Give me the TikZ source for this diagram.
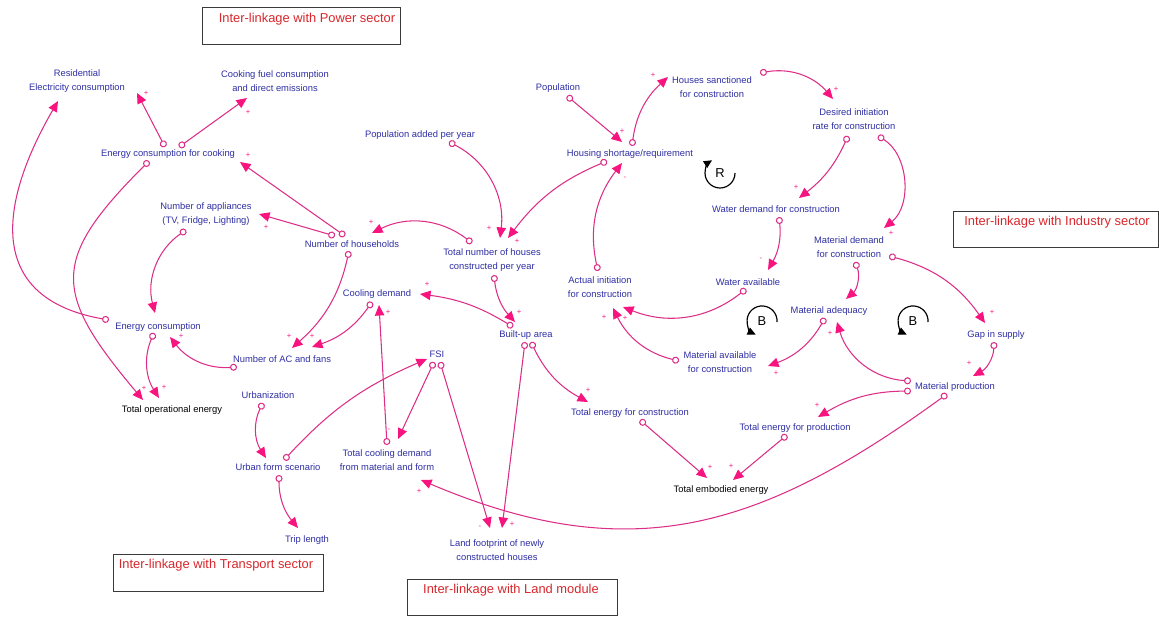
\documentclass[tikz,border=0pt]{standalone}
\usepackage{fontspec}
\setmainfont{Liberation Sans}
\usetikzlibrary{arrows.meta, calc}
\definecolor{varblue}{HTML}{2E2EA3}
\definecolor{linkpink}{HTML}{DC2E86}
\definecolor{headpink}{HTML}{F7147F}
\definecolor{titlered}{HTML}{D8262B}
\definecolor{boxgray}{HTML}{3A3A3A}
\tikzset{
  var/.style={text=varblue, align=center, inner sep=0pt,
    font=\fontsize{8}{11.5}\selectfont},
  outvar/.style={var, text=black},
  link/.style={draw=linkpink, line width=0.9pt,
    arrows={Circle[open, fill=white, length=6pt]-Triangle[length=9pt, width=8pt, color=headpink]}},
  sgn/.style={text=headpink, inner sep=0pt, font=\fontsize{6.5}{6.5}\selectfont},
  tbox/.style={draw=boxgray, line width=0.8pt, anchor=north west, inner sep=0pt},
  ttl/.style={text=titlered, inner sep=0pt, font=\fontsize{11}{11}\selectfont},
  loopmark/.style={inner sep=0pt, font=\fontsize{11}{11}\selectfont},
  looparc/.style={line width=1pt, -{Triangle[length=7pt, width=6.5pt]}}
}

\begin{document}
\begin{tikzpicture}[x=0.03cm, y=0.03cm]
  \useasboundingbox (0,0) rectangle (1159,-617);
  % Inter-linkage boxes
  \node[tbox, minimum width=5.94cm, minimum height=1.11cm] (pwrbox) at (202,-7) {};
  \node[ttl] (pwrttl) at (307,-19) {Inter-linkage with Power sector};
  \node[tbox, minimum width=6.15cm, minimum height=1.08cm] (indbox) at (953,-211) {};
  \node[ttl] (indttl) at (1057,-222) {Inter-linkage with Industry sector};
  \node[tbox, minimum width=6.30cm, minimum height=1.11cm] (trnbox) at (113,-554) {};
  \node[ttl] (trnttl) at (216,-565) {Inter-linkage with Transport sector};
  \node[tbox, minimum width=6.30cm, minimum height=1.08cm] (lndbox) at (407,-579) {};
  \node[ttl] (lndttl) at (511,-590) {Inter-linkage with Land module};

  % Variables
  \node[var] (resel) at (77,-81) {Residential\\Electricity consumption};
  \node[var] (cfuel) at (275,-81) {Cooking fuel consumption\\and direct emissions};
  \node[var] (ecook) at (168,-154) {Energy consumption for cooking};
  \node[var] (popadd) at (420,-135) {Population added per year};
  \node[var] (pop) at (558,-88) {Population};
  \node[var] (hsanc) at (712,-87) {Houses sanctioned\\for construction};
  \node[var] (desinit) at (854,-119) {Desired initiation\\rate for construction};
  \node[var] (hshort) at (630,-154) {Housing shortage/requirement};
  \node[var] (nappl) at (206,-214) {Number of appliances\\(TV, Fridge, Lighting)};
  \node[var] (nhh) at (352,-244) {Number of households};
  \node[var] (tothouse) at (492,-260) {Total number of houses\\constructed per year};
  \node[var] (wdem) at (776,-209) {Water demand for construction};
  \node[var] (mdem) at (849,-247) {Material demand\\for construction};
  \node[var] (actinit) at (600,-287) {Actual initiation\\for construction};
  \node[var] (wavail) at (748,-282) {Water available};
  \node[var] (cooldem) at (377,-294) {Cooling demand};
  \node[var] (econs) at (158,-327) {Energy consumption};
  \node[var] (builtup) at (526,-335) {Built-up area};
  \node[var] (madeq) at (829,-311) {Material adequacy};
  \node[var] (gap) at (996,-335) {Gap in supply};
  \node[var] (mavail) at (720,-362) {Material available\\for construction};
  \node[var] (nac) at (282,-359) {Number of AC and fans};
  \node[var] (fsi) at (437,-354) {FSI};
  \node[var] (mprod) at (955,-387) {Material production};
  \node[var] (urban) at (268,-395) {Urbanization};
  \node[outvar] (totop) at (172,-410) {Total operational energy};
  \node[var] (tecons) at (630,-413) {Total energy for construction};
  \node[var] (teprod) at (795,-428) {Total energy for production};
  \node[var] (uform) at (278,-467) {Urban form scenario};
  \node[var] (tcool) at (387,-460) {Total cooling demand\\from material and form};
  \node[outvar] (temb) at (721,-490) {Total embodied energy};
  \node[var] (trip) at (307,-540) {Trip length};
  \node[var] (land) at (497,-550) {Land footprint of newly\\constructed houses};

  % Power side
  \draw[link] ($(ecook)+(-3,7)$) -- ($(resel)+(60,-12)$);
  \draw[link] ($(ecook)+(11,7)$) -- ($(cfuel)+(-28,-17)$);
  \draw[link] ($(ecook)+(-19,-7)$) to[out=225, in=130, looseness=1.5] ($(totop)+(-29,10)$);
  \draw[link] ($(econs)+(-49,7)$) to[out=170, in=240, looseness=1.4] ($(resel)+(-19,-20)$);
  % Households
  \draw[link] ($(nhh)+(-7,8)$) -- ($(ecook)+(72,-8)$);
  \draw[link] ($(nhh)+(-17,8)$) -- ($(nappl)+(53,0)$);
  \draw[link] ($(nhh)+(-3,-7)$) to[bend left=18] ($(nac)+(10,11)$);
  \draw[link] ($(tothouse)+(-20,17)$) to[bend right=32] ($(nhh)+(20,11)$);
  \draw[link] ($(popadd)+(29,-7)$) to[bend left=35] ($(tothouse)+(8,22)$);
  \draw[link] ($(hshort)+(-23,-7)$) to[bend right=15] ($(tothouse)+(16,22)$);
  % Housing loop
  \draw[link] ($(pop)+(9,-8)$) -- ($(hshort)+(-8,12)$);
  \draw[link] ($(hshort)+(2,8)$) to[bend left=20] ($(hsanc)+(-44,10)$);
  \draw[link] ($(hsanc)+(48,14)$) to[bend left=30] ($(desinit)+(-21,20)$);
  \draw[link] ($(desinit)+(-6,-17)$) to[bend left=14] ($(wdem)+(23,11)$);
  \draw[link] ($(desinit)+(24,-17)$) to[bend left=55] ($(mdem)+(35,19)$);
  \draw[link] ($(wdem)+(3,-8)$) to[bend left=18] ($(wavail)+(20,12)$);
  \draw[link] ($(wavail)+(-2,-7)$) to[bend left=30] ($(actinit)+(23,-20)$);
  \draw[link] ($(mavail)+(-41,1)$) to[bend left=25] ($(actinit)+(13,-21)$);
  \draw[link] ($(actinit)+(-2,16)$) to[bend left=25] ($(hshort)+(-8,-9)$);
  % Material side
  \draw[link] ($(mdem)+(6,-15)$) to[bend left=35] ($(madeq)+(17,12)$);
  \draw[link] ($(mdem)+(40,-9)$) to[bend left=20] ($(gap)+(-11,12)$);
  \draw[link] ($(madeq)+(-4,-7)$) to[bend left=20] ($(mavail)+(48,-4)$);
  \draw[link] ($(mprod)+(-44,6)$) to[bend left=35] ($(madeq)+(8,-11)$);
  \draw[link] ($(gap)+(-2,-7)$) to[bend left=30] ($(mprod)+(18,11)$);
  \draw[link] ($(mprod)+(-44,-4)$) to[bend right=15] ($(teprod)+(23,11)$);
  \draw[link] ($(mprod)+(-8,-7)$) to[out=216, in=-23, looseness=1.1] ($(tcool)+(34,-20)$);
  \draw[link] ($(teprod)+(-8,-7)$) -- ($(temb)+(12,10)$);
  \draw[link] ($(tecons)+(10,-7)$) -- ($(temb)+(-14,12)$);
  % Built-up area
  \draw[link] ($(builtup)+(5,-7)$) to[bend right=18] ($(tecons)+(-42,11)$);
  \draw[link] ($(builtup)+(-13,8)$) to[bend right=12] ($(cooldem)+(43,0)$);
  \draw[link] ($(tothouse)+(2,-15)$) to[bend right=18] ($(builtup)+(-11,13)$);
  \draw[link] ($(builtup)+(-1,-7)$) -- ($(land)+(5,22)$);
  % Urban form
  \draw[link] ($(fsi)+(3,-8)$) -- ($(land)+(-7,22)$);
  \draw[link] ($(fsi)+(-3,-8)$) -- ($(tcool)+(11,21)$);
  \draw[link] ($(tcool)+(0,15)$) -- ($(cooldem)+(2,-11)$);
  \draw[link] ($(cooldem)+(-5,-8)$) to[bend left=18] ($(nac)+(30,12)$);
  \draw[link] ($(nac)+(-45,-8)$) to[bend left=28] ($(econs)+(12,-10)$);
  \draw[link] ($(nappl)+(-20,-16)$) to[bend right=35] ($(econs)+(-3,14)$);
  \draw[link] ($(econs)+(-4,-6)$) to[bend right=28] ($(totop)+(-13,12)$);
  \draw[link] ($(urban)+(-5,-8)$) to[bend right=30] ($(uform)+(-12,9)$);
  \draw[link] ($(uform)+(6,7)$) to[bend left=12] ($(fsi)+(-10,-5)$);
  \draw[link] ($(uform)+(1,-8)$) to[bend right=20] ($(trip)+(-9,12)$);

  % Polarities
  \foreach \sx/\sy/\sv [count=\k] in {146/93/+, 248/112/+, 144/388/+, 248/155/+,
      266/227/+, 289/336/+, 371/222/+, 489/228/+, 517/241/+, 622/131/+,
      653/75/+, 836/89/+, 796/187/+, 891/233/+, 761/259/-, 625/318/+,
      604/317/+, 625/178/-, 992/312/+, 776/373/+, 830/333/+, 969/363/+,
      817/405/+, 419/491/+, 731/466/+, 710/467/+, 588/390/+, 427/284/+,
      519/312/+, 512/524/+, 480/527/-, 389/430/-, 388/312/+, 312/336/+,
      181/336/+, 164/387/+}
    \node[sgn] (sg\k) at (\sx,-\sy) {\sv};

  % Loop markers
  \node[loopmark] (loopR) at (720,-173) {R};
  \draw[looparc] ($(loopR)+(15,0)$) arc[start angle=0, end angle=-238, radius=15];
  \node[loopmark] (loopB1) at (762,-321) {B};
  \draw[looparc] ($(loopB1)+(15,-1)$) arc[start angle=-4, end angle=245, radius=15];
  \node[loopmark] (loopB2) at (913,-321) {B};
  \draw[looparc] ($(loopB2)+(15,-1)$) arc[start angle=-4, end angle=245, radius=15];
\end{tikzpicture}
\end{document}
